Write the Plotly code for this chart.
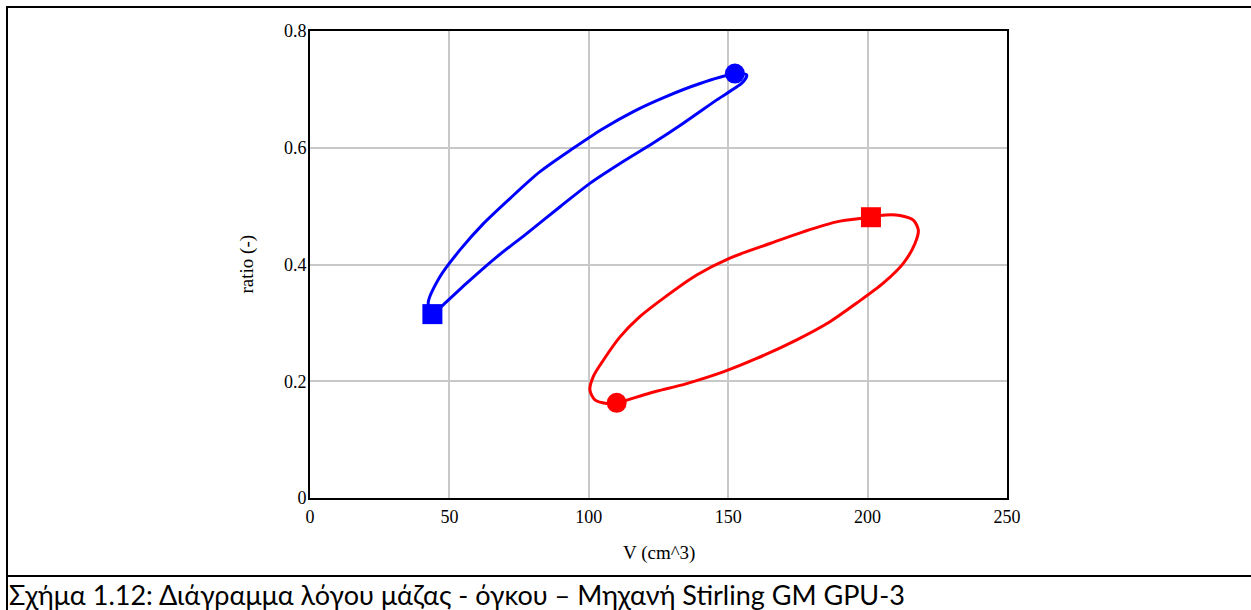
import plotly.graph_objects as go

# Blue loop (V in cm^3, mass ratio)
blue_v = [43.9, 42.4, 46.6, 53.8, 62.2, 71.7, 82.5, 94.4, 105.2, 116.0, 127.9, 139.9, 150.6, 156.6,
          155.4, 145.9, 133.9, 123.1, 111.2, 100.4, 89.7, 77.7, 67.0, 56.2, 47.8, 43.9]
blue_r = [0.315, 0.334, 0.379, 0.425, 0.470, 0.513, 0.559, 0.599, 0.633, 0.662, 0.688, 0.710, 0.725, 0.725,
          0.713, 0.682, 0.642, 0.608, 0.573, 0.539, 0.499, 0.453, 0.413, 0.368, 0.331, 0.315]

# Red loop
red_v = [110.0, 122.0, 135.1, 148.2, 160.2, 174.6, 186.5, 196.1, 205.6, 212.8, 217.0, 218.2, 216.4, 211.6,
         204.4, 201.2, 188.9, 176.9, 165.0, 150.6, 138.7, 126.7, 118.4, 111.2, 105.2, 101.6, 100.4, 102.2,
         106.4, 110.0]
red_r = [0.163, 0.180, 0.196, 0.216, 0.239, 0.271, 0.302, 0.334, 0.368, 0.402, 0.436, 0.459, 0.476, 0.484,
         0.484, 0.481, 0.473, 0.456, 0.436, 0.411, 0.382, 0.342, 0.311, 0.276, 0.236, 0.208, 0.185, 0.168,
         0.162, 0.163]

# Marker points
blue_square = (43.9, 0.315)
blue_circle = (152.4, 0.727)
red_square = (201.2, 0.481)
red_circle = (110.0, 0.163)

x_ticks = [0, 50, 100, 150, 200, 250]
y_ticks = [0, 0.2, 0.4, 0.6, 0.8]
y_tick_text = ["0", "0.2", "0.4", "0.6", "0.8"]

x_title = "V (cm^3)"
y_title = "ratio (-)"
caption = "Σχήμα 1.12: Διάγραμμα λόγου μάζας - όγκου – Μηχανή Stirling GM GPU-3"

W, H = 1251, 610
L, R, T, B = 310, 1007, 31, 498  # plot area in pixels


def px(xp):
    return (xp - L) / (R - L)


def py(yp):
    return (B - yp) / (B - T)


fig = go.Figure()
fig.add_trace(go.Scatter(x=blue_v, y=blue_r, mode="lines",
                         line=dict(color="#0000ff", width=3, shape="spline", smoothing=0.8),
                         hoverinfo="skip"))
fig.add_trace(go.Scatter(x=red_v, y=red_r, mode="lines",
                         line=dict(color="#ff0000", width=3, shape="spline", smoothing=0.8),
                         hoverinfo="skip"))
fig.add_trace(go.Scatter(x=[blue_square[0], red_square[0]], y=[blue_square[1], red_square[1]],
                         mode="markers", marker=dict(symbol="square", size=20, color=["#0000ff", "#ff0000"])))
fig.add_trace(go.Scatter(x=[blue_circle[0], red_circle[0]], y=[blue_circle[1], red_circle[1]],
                         mode="markers", marker=dict(symbol="circle", size=20, color=["#0000ff", "#ff0000"])))

axis_font = dict(family="Liberation Serif", size=18, color="black")
fig.update_xaxes(range=[0, 250], tickvals=x_ticks, showgrid=True, gridcolor="#c8c8c8", gridwidth=1.5,
                 showline=True, linecolor="black", linewidth=2, mirror=True, zeroline=False,
                 tickfont=axis_font, ticks="", ticklabelstandoff=1)
fig.update_yaxes(range=[0, 0.8], tickvals=y_ticks, ticktext=y_tick_text, showgrid=True,
                 gridcolor="#c8c8c8", gridwidth=1.5, showline=True, linecolor="black", linewidth=2,
                 mirror=True, zeroline=False, tickfont=axis_font, ticks="", ticklabelstandoff=-2)

title_font = dict(family="Liberation Serif", size=19, color="black")
shape_line = dict(color="black", width=2)
fig.update_layout(
    width=W, height=H, showlegend=False,
    margin=dict(l=L, r=W - R, t=T, b=H - B, pad=0),
    paper_bgcolor="white", plot_bgcolor="white",
    annotations=[
        dict(text=x_title, x=0.5, y=py(553), xref="paper", yref="paper", showarrow=False,
             font=title_font, xanchor="center", yanchor="middle"),
        dict(text=y_title, x=px(246), y=0.5, xref="paper", yref="paper", showarrow=False,
             font=title_font, textangle=-90, xanchor="center", yanchor="middle"),
        dict(text=caption, x=px(7), y=py(594), xref="paper", yref="paper", showarrow=False,
             font=dict(family="Lato", size=27, color="black"), xanchor="left", yanchor="middle"),
    ],
    shapes=[
        dict(type="line", xref="paper", yref="paper", x0=px(6), x1=px(W + 5), y0=py(7), y1=py(7), line=shape_line),
        dict(type="line", xref="paper", yref="paper", x0=px(7), x1=px(7), y0=py(6), y1=py(H + 5), line=shape_line),
        dict(type="line", xref="paper", yref="paper", x0=px(6), x1=px(W + 5), y0=py(576), y1=py(576), line=shape_line),
    ],
)

fig.write_html("out.html")
